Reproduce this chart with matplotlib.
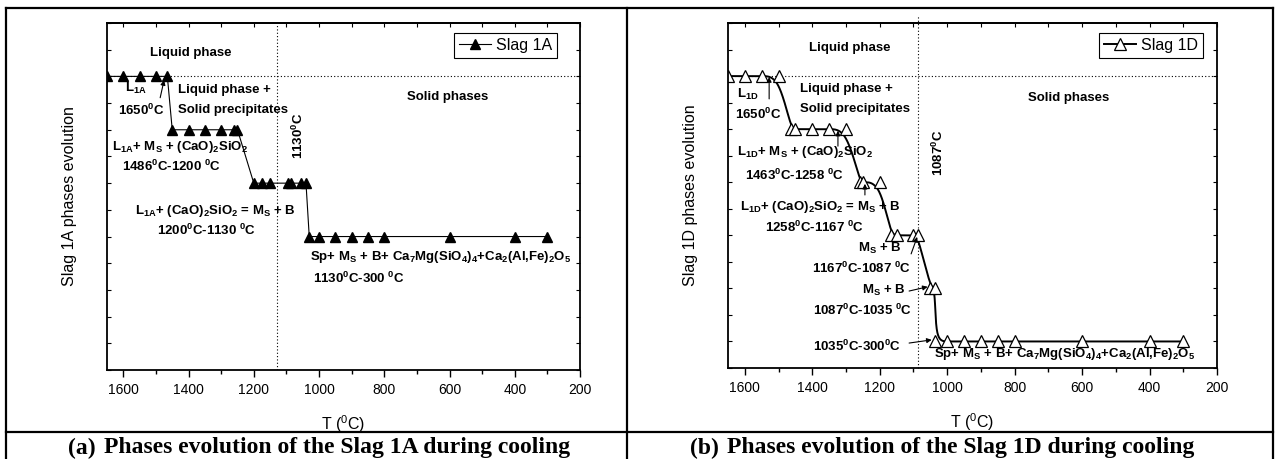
import numpy as np
import matplotlib
matplotlib.use("Agg")
import matplotlib.pyplot as plt
from matplotlib.lines import Line2D
from matplotlib.ticker import MultipleLocator, NullFormatter

plt.rcParams['font.family'] = ['Liberation Sans', 'DejaVu Sans']

# Slag 1A: temperature of each calculated point and the phase level it sits on
temp_1a = [1650, 1600, 1550, 1500, 1465,
           1450, 1400, 1350, 1300, 1260, 1250,
           1200, 1175, 1150, 1095, 1085, 1055, 1040,
           1030, 1000, 950, 900, 850, 800, 600, 400, 300]
level_1a = [5.5, 5.5, 5.5, 5.5, 5.5,
            4.5, 4.5, 4.5, 4.5, 4.5, 4.5,
            3.5, 3.5, 3.5, 3.5, 3.5, 3.5, 3.5,
            2.5, 2.5, 2.5, 2.5, 2.5, 2.5, 2.5, 2.5, 2.5]

# Slag 1D
temp_1d = [1650, 1600, 1550, 1500,
           1463, 1450, 1400, 1350, 1300,
           1258, 1250, 1200,
           1167, 1150, 1100, 1087,
           1050, 1035,
           1035, 1000, 950, 900, 850, 800, 600, 400, 300]
level_1d = [5.5, 5.5, 5.5, 5.5,
            4.5, 4.5, 4.5, 4.5, 4.5,
            3.5, 3.5, 3.5,
            2.5, 2.5, 2.5, 2.5,
            1.5, 1.5,
            0.5, 0.5, 0.5, 0.5, 0.5, 0.5, 0.5, 0.5, 0.5]

liquidus = 5.5
solidus_1a = 1130
solidus_1d = 1087

x_ticks = [1600, 1400, 1200, 1000, 800, 600, 400, 200]

W, H = 1279, 459


def bspline(xs, ys, n=40):
    # uniform cubic B-spline, ends clamped by repeating the end points
    p = np.column_stack([xs, ys]).astype(float)
    p = np.vstack([p[0], p[0], p, p[-1], p[-1]])
    t = np.linspace(0, 1, n)
    b0 = (1 - t) ** 3 / 6
    b1 = (3 * t**3 - 6 * t**2 + 4) / 6
    b2 = (-3 * t**3 + 3 * t**2 + 3 * t + 1) / 6
    b3 = t**3 / 6
    pts = []
    for i in range(len(p) - 3):
        seg = (np.outer(b0, p[i]) + np.outer(b1, p[i + 1])
               + np.outer(b2, p[i + 2]) + np.outer(b3, p[i + 3]))
        pts.append(seg)
    pts = np.vstack(pts)
    return pts[:, 0], pts[:, 1]


def rect(x0, y0, x1, y1):
    return [x0 / W, 1 - y1 / H, (x1 - x0) / W, (y1 - y0) / H]


def style_axes(ax, ylabel):
    ax.set_xlim(1650, 200)
    ax.set_ylim(0, 6.5)
    ax.set_xticks(x_ticks)
    ax.xaxis.set_minor_locator(MultipleLocator(100))
    ax.yaxis.set_major_locator(MultipleLocator(1))
    ax.yaxis.set_minor_locator(MultipleLocator(0.5))
    ax.yaxis.set_major_formatter(NullFormatter())
    ax.tick_params(axis='x', which='both', direction='out', top=False, labelsize=10, pad=4)
    ax.tick_params(axis='x', which='major', length=5, width=1)
    ax.tick_params(axis='x', which='minor', length=3, width=1)
    ax.tick_params(axis='y', which='both', direction='in', left=True, right=True,
                   length=3, width=0.8)
    sec = ax.secondary_xaxis('top')
    sec.set_xticks(x_ticks)
    sec.xaxis.set_minor_locator(MultipleLocator(100))
    sec.tick_params(which='both', direction='in', labeltop=False, length=3, width=0.8)
    sec.spines['top'].set_linewidth(1.3)
    for s in ax.spines.values():
        s.set_linewidth(1.3)
    ax.set_xlabel(r'T ($\mathregular{^0}$C)', fontsize=11.5, labelpad=12)
    ax.set_ylabel(ylabel, fontsize=11.5, labelpad=18)


def note(ax, x, y, s, **kw):
    kw.setdefault('ha', 'left')
    kw.setdefault('va', 'center')
    ax.text(x, y, s, fontsize=9.5, fontweight='bold', **kw)


def arrow(ax, x0, y0, x1, y1):
    ax.annotate('', xy=(x1, y1), xytext=(x0, y0),
                arrowprops=dict(arrowstyle='-|>', lw=0.8, color='black',
                                mutation_scale=7, shrinkA=0, shrinkB=0))


fig = plt.figure(figsize=(W / 100, H / 100), dpi=100)

# table frame around both panels and the caption row
for (x0, y0, x1, y1) in [(6, 8, 1273, 8), (6, 432, 1273, 432),
                         (6, 8, 6, 459), (627, 8, 627, 459), (1273, 8, 1273, 459)]:
    fig.add_artist(Line2D([x0 / W, x1 / W], [1 - y0 / H, 1 - y1 / H],
                          transform=fig.transFigure, color='black', lw=1.6))

# ---- (a) Slag 1A ----
ax1 = fig.add_axes(rect(107, 23, 580, 370))
style_axes(ax1, 'Slag 1A phases evolution')
ax1.axhline(liquidus, color='black', lw=0.8, ls=(0, (1, 2)))
ax1.axvline(solidus_1a, color='black', lw=0.8, ls=(0, (1, 2)))
ax1.plot(temp_1a, level_1a, color='black', lw=0.8, marker='^', ms=7.5,
         mfc='black', mec='black', label='Slag 1A', clip_on=True)

note(ax1, 1393, 5.94, 'Liquid phase', ha='center')
note(ax1, 1595, 5.27, r'L$\mathregular{_{1A}}$')
note(ax1, 1616, 4.87, r'1650$\mathregular{^0}$C')
arrow(ax1, 1487, 5.10, 1475, 5.43)
note(ax1, 1432, 5.25, 'Liquid phase +')
note(ax1, 1432, 4.87, 'Solid precipitates')
note(ax1, 1635, 4.18, r'L$\mathregular{_{1A}}$+ M$\mathregular{_S}$ + (CaO)$\mathregular{_2}$SiO$\mathregular{_2}$')
note(ax1, 1604, 3.82, r'1486$\mathregular{^0}$C-1200 $\mathregular{^0}$C')
note(ax1, 1064, 4.38, r'1130$\mathregular{^0}$C', rotation=90, ha='center')
note(ax1, 1564, 2.98, r'L$\mathregular{_{1A}}$+ (CaO)$\mathregular{_2}$SiO$\mathregular{_2}$ = M$\mathregular{_S}$ + B')
note(ax1, 1497, 2.62, r'1200$\mathregular{^0}$C-1130 $\mathregular{^0}$C')
note(ax1, 1028, 2.12, r'Sp+ M$\mathregular{_S}$ + B+ Ca$\mathregular{_7}$Mg(SiO$\mathregular{_4}$)$\mathregular{_4}$+Ca$\mathregular{_2}$(Al,Fe)$\mathregular{_2}$O$\mathregular{_5}$')
note(ax1, 1018, 1.72, r'1130$\mathregular{^0}$C-300 $\mathregular{^0}$C')
note(ax1, 605, 5.11, 'Solid phases', ha='center')

h1 = Line2D([], [], color='black', lw=0.8, marker='^', ms=7.5, mfc='black', mec='black')
ax1.legend([h1], ['Slag 1A'], loc='upper right', bbox_to_anchor=(0.951, 0.971),
           fontsize=11.5, frameon=True, fancybox=False, edgecolor='black',
           framealpha=1, borderpad=0.3, handlelength=2.0, handletextpad=0.3,
           borderaxespad=0).get_frame().set_linewidth(0.8)

# ---- (b) Slag 1D ----
ax2 = fig.add_axes(rect(728, 23, 1217, 368))
style_axes(ax2, 'Slag 1D phases evolution')
ax2.axhline(liquidus, color='black', lw=0.8, ls=(0, (1, 2)))
ax2.plot([solidus_1d, solidus_1d], [0, 6.66], color='black', lw=0.8,
         ls=(0, (1, 2)), clip_on=False)
sx, sy = bspline(temp_1d, level_1d)
ax2.plot(sx, sy, color='black', lw=1.4)
ax2.plot(temp_1d, level_1d, ls='none', marker='^', ms=8, mfc='white',
         mec='black', mew=0.9)

note(ax2, 1288, 6.03, 'Liquid phase', ha='center')
note(ax2, 1623, 5.16, r'L$\mathregular{_{1D}}$')
arrow(ax2, 1528, 5.07, 1528, 5.48)
note(ax2, 1629, 4.77, r'1650$\mathregular{^0}$C')
note(ax2, 1436, 5.26, 'Liquid phase +')
note(ax2, 1436, 4.88, 'Solid precipitates')
note(ax2, 1623, 4.07, r'L$\mathregular{_{1D}}$+ M$\mathregular{_S}$ + (CaO)$\mathregular{_2}$SiO$\mathregular{_2}$')
note(ax2, 1600, 3.63, r'1463$\mathregular{^0}$C-1258 $\mathregular{^0}$C')
arrow(ax2, 1324, 4.18, 1324, 4.47)
arrow(ax2, 1244, 3.26, 1244, 3.47)
note(ax2, 1614, 3.03, r'L$\mathregular{_{1D}}$+ (CaO)$\mathregular{_2}$SiO$\mathregular{_2}$ = M$\mathregular{_S}$ + B')
note(ax2, 1540, 2.64, r'1258$\mathregular{^0}$C-1167 $\mathregular{^0}$C')
note(ax2, 1264, 2.26, r'M$\mathregular{_S}$ + B')
arrow(ax2, 1107, 2.15, 1089, 2.47)
note(ax2, 1401, 1.88, r'1167$\mathregular{^0}$C-1087 $\mathregular{^0}$C')
note(ax2, 1253, 1.47, r'M$\mathregular{_S}$ + B')
arrow(ax2, 1113, 1.45, 1058, 1.53)
note(ax2, 1398, 1.08, r'1087$\mathregular{^0}$C-1035 $\mathregular{^0}$C')
note(ax2, 1398, 0.40, r'1035$\mathregular{^0}$C-300$\mathregular{^0}$C')
arrow(ax2, 1113, 0.47, 1046, 0.53)
note(ax2, 1039, 0.26, r'Sp+ M$\mathregular{_S}$ + B+ Ca$\mathregular{_7}$Mg(SiO$\mathregular{_4}$)$\mathregular{_4}$+Ca$\mathregular{_2}$(Al,Fe)$\mathregular{_2}$O$\mathregular{_5}$')
note(ax2, 1027, 4.05, r'1087$\mathregular{^0}$C', rotation=90, ha='center')
note(ax2, 639, 5.09, 'Solid phases', ha='center')

h2 = Line2D([], [], color='black', lw=1.4, marker='^', ms=8, mfc='white', mec='black', mew=0.9)
ax2.legend([h2], ['Slag 1D'], loc='upper right', bbox_to_anchor=(0.971, 0.971),
           fontsize=11.5, frameon=True, fancybox=False, edgecolor='black',
           framealpha=1, borderpad=0.3, handlelength=2.0, handletextpad=0.3,
           borderaxespad=0).get_frame().set_linewidth(0.8)

# caption row
cap = dict(family='Liberation Serif', fontweight='bold', fontsize=17, va='center')
fig.text(68 / W, 1 - 448 / H, '(a)', **cap)
fig.text(104 / W, 1 - 448 / H, 'Phases evolution of the Slag 1A during cooling', **cap)
fig.text(690 / W, 1 - 448 / H, '(b)', **cap)
fig.text(727 / W, 1 - 448 / H, 'Phases evolution of the Slag 1D during cooling', **cap)

fig.savefig('out.png', dpi=100)
